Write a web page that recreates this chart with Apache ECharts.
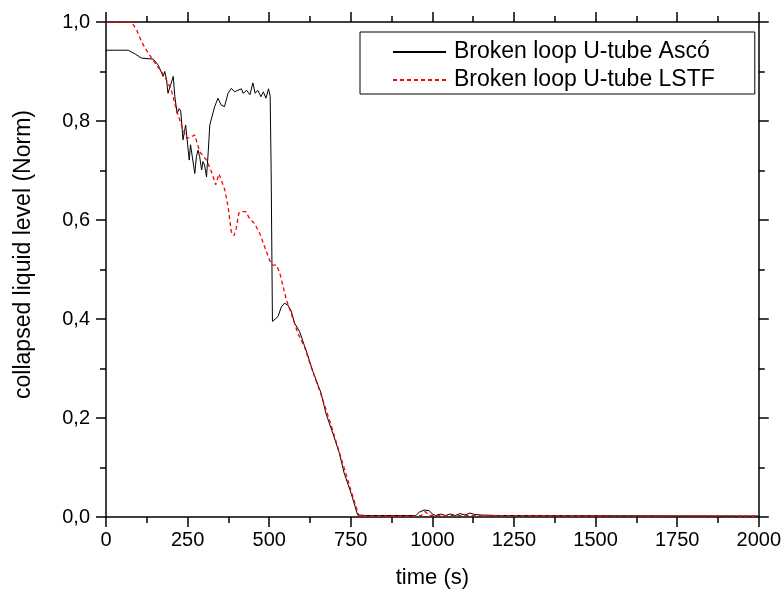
<!DOCTYPE html>
<html>
<head>
<meta charset="utf-8">
<script src="https://cdn.jsdelivr.net/npm/echarts@6/dist/echarts.min.js"></script>
<style>
html,body{margin:0;padding:0;background:#fff;}
#chart{width:784px;height:598px;}
</style>
</head>
<body>
<div id="chart"></div>
<script>
// Data
var seriesNames = ['Broken loop U-tube Ascó', 'Broken loop U-tube LSTF'];

var ascoTime = [0, 68, 90, 109, 145, 160, 175, 180, 185, 190, 198, 206, 211, 218, 224, 229, 236, 244, 247, 255, 259, 265, 272, 277, 282, 287, 293, 297, 302, 308, 313, 318, 323, 333, 338, 343, 353, 363, 374, 384, 394, 404, 415, 420, 431, 441, 450, 457, 465, 475, 482, 490, 498, 503, 506, 510, 516, 527, 537, 547, 557, 567, 578, 593, 608, 613, 634, 659, 674, 695, 715, 730, 751, 771, 800, 950, 960, 975, 990, 1000, 1010, 1025, 1040, 1055, 1070, 1085, 1100, 1115, 1130, 1150, 1200, 2000];
var ascoLevel = [0.943, 0.943, 0.935, 0.927, 0.925, 0.913, 0.890, 0.900, 0.886, 0.856, 0.873, 0.890, 0.849, 0.815, 0.825, 0.820, 0.762, 0.792, 0.790, 0.721, 0.752, 0.752, 0.694, 0.728, 0.741, 0.728, 0.701, 0.718, 0.711, 0.687, 0.735, 0.792, 0.790, 0.829, 0.826, 0.846, 0.832, 0.829, 0.856, 0.866, 0.859, 0.862, 0.865, 0.856, 0.862, 0.853, 0.877, 0.856, 0.862, 0.849, 0.859, 0.846, 0.865, 0.850, 0.700, 0.395, 0.395, 0.405, 0.424, 0.432, 0.428, 0.417, 0.391, 0.375, 0.346, 0.337, 0.294, 0.250, 0.209, 0.169, 0.129, 0.088, 0.048, 0.004, 0.003, 0.003, 0.010, 0.014, 0.013, 0.006, 0.003, 0.006, 0.003, 0.006, 0.003, 0.007, 0.004, 0.008, 0.005, 0.004, 0.003, 0.002];

var lstfTime = [0, 78, 94, 109, 124, 140, 155, 170, 185, 200, 216, 231, 247, 262, 272, 287, 308, 323, 336, 346, 353, 364, 374, 384, 392, 399, 407, 415, 428, 440, 455, 471, 486, 501, 511, 523, 534, 552, 567, 588, 608, 630, 660, 690, 720, 750, 775, 950, 966, 978, 990, 2000];
var lstfLevel = [1.0, 1.0, 0.984, 0.960, 0.943, 0.927, 0.913, 0.900, 0.883, 0.863, 0.822, 0.792, 0.765, 0.768, 0.772, 0.738, 0.721, 0.698, 0.671, 0.693, 0.681, 0.661, 0.627, 0.576, 0.568, 0.583, 0.614, 0.617, 0.617, 0.603, 0.593, 0.573, 0.546, 0.519, 0.509, 0.509, 0.489, 0.440, 0.412, 0.371, 0.344, 0.300, 0.245, 0.185, 0.120, 0.055, 0.002, 0.002, 0.003, 0.011, 0.003, 0.002];

var xMin = 0, xMax = 2000, xStep = 250;
var yMin = 0, yMax = 1, yStep = 0.2;
var xTitle = 'time (s)';
var yTitle = 'collapsed liquid level (Norm)';

function pairs(t, v) { return t.map(function (x, i) { return [x, v[i]]; }); }

var font = '"Liberation Sans", Arial, sans-serif';
var axisLine = { show: true, onZero: false, lineStyle: { color: '#000', width: 1.5 } };
var tick = { show: true, inside: false, length: 10, lineStyle: { color: '#000', width: 1.5 } };
var minor = { show: true, splitNumber: 2, length: 6, lineStyle: { color: '#000', width: 1.5 } };

var chart = echarts.init(document.getElementById('chart'), null, { renderer: 'canvas' });
chart.setOption({
  animation: false,
  backgroundColor: '#fff',
  grid: { left: 106, right: 24, top: 22, bottom: 81, containLabel: false },
  legend: {
    left: 360, top: 32, orient: 'vertical',
    backgroundColor: '#fff',
    borderColor: '#000', borderWidth: 1,
    padding: [8, 40, 2, 32],
    itemWidth: 53, itemHeight: 14, itemGap: 4,
    itemStyle: { opacity: 0 },
    textStyle: { fontFamily: font, fontSize: 23, color: '#000', lineHeight: 24, padding: [0, 0, 0, 3] },
    data: seriesNames
  },
  xAxis: [{
    type: 'value', min: xMin, max: xMax, interval: xStep,
    name: xTitle, nameLocation: 'middle', nameGap: 50,
    nameTextStyle: { fontFamily: font, fontSize: 22, color: '#000' },
    axisLine: axisLine, axisTick: tick, minorTick: minor,
    axisLabel: { fontFamily: font, fontSize: 20, color: '#000', margin: 13,
      formatter: function (v) { return String(v); } },
    splitLine: { show: false }
  }, {
    type: 'value', min: xMin, max: xMax, interval: xStep, position: 'top',
    axisLine: axisLine, axisTick: tick, minorTick: minor,
    axisLabel: { show: false }, splitLine: { show: false }
  }],
  yAxis: [{
    type: 'value', min: yMin, max: yMax, interval: yStep,
    name: yTitle, nameLocation: 'middle', nameGap: 71, nameRotate: 90,
    nameTextStyle: { fontFamily: font, fontSize: 23, color: '#000', padding: [0, 0, 0, 30] },
    axisLine: axisLine, axisTick: tick, minorTick: minor,
    axisLabel: { fontFamily: font, fontSize: 20, color: '#000', margin: 16,
      formatter: function (v) { return v.toFixed(1).replace('.', ','); } },
    splitLine: { show: false }
  }, {
    type: 'value', min: yMin, max: yMax, interval: yStep, position: 'right',
    axisLine: axisLine, axisTick: tick, minorTick: minor,
    axisLabel: { show: false }, splitLine: { show: false }
  }],
  series: [{
    name: seriesNames[0], type: 'line', data: pairs(ascoTime, ascoLevel),
    symbol: 'none', showSymbol: false, smooth: false,
    itemStyle: { color: '#000' },
    lineStyle: { color: '#000', width: 1 }, z: 3
  }, {
    name: seriesNames[1], type: 'line', data: pairs(lstfTime, lstfLevel),
    symbol: 'none', showSymbol: false, smooth: false,
    itemStyle: { color: '#ff0000' },
    lineStyle: { color: '#ff0000', width: 1.3, type: [4, 3] }, z: 4
  }]
});
</script>
</body>
</html>
